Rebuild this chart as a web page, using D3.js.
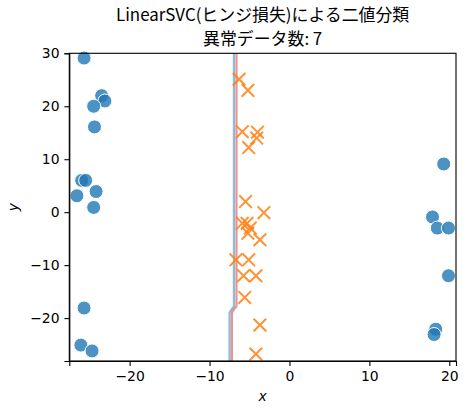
<!DOCTYPE html>
<html>
<head>
<meta charset="utf-8">
<script src="https://cdn.jsdelivr.net/npm/d3@7"></script>
<style>
    body { margin: 0; background: #fff; }
    .axis text { font-family: "DejaVu Sans", sans-serif; font-size: 13.9px; fill: #000; }
    .axis path, .axis line { stroke: #000; stroke-width: 1.1; }
    .title { font-family: "Noto Sans CJK JP", sans-serif; font-size: 16.9px; fill: #000; }
    .label { font-family: "DejaVu Sans", sans-serif; font-size: 13.9px; font-style: italic; fill: #000; }
</style>
</head>
<body>
<svg id="chart" width="467" height="414"></svg>
<script>
(function(){
    'use strict';

    /*******************************************************************
     *                              DATA                               *
     *******************************************************************/

    //Normal points (class 0), [x, y]
    var normalPoints = [
        [-25.7, 29.1], [-23.5, 22.0], [-23.1, 21.0], [-24.5, 20.0],
        [-24.4, 16.1], [-26.0, 6.0], [-25.5, 6.0], [-26.6, 3.1],
        [-24.2, 3.9], [-24.5, 0.9], [-25.7, -18.1], [-26.1, -25.1],
        [-24.7, -26.2],
        [19.3, 9.1], [17.9, -0.9], [18.5, -3.0], [19.9, -3.0],
        [19.9, -12.0], [18.3, -22.1], [18.1, -23.1]
    ];

    //Points of the other class (class 1), [x, y]
    var otherPoints = [
        [-6.3, 25.1], [-5.2, 23.0], [-5.9, 15.2], [-4.0, 15.1],
        [-4.1, 14.0], [-5.1, 12.2], [-5.5, 2.0], [-3.2, -0.1],
        [-5.9, -2.1], [-5.3, -2.1], [-4.9, -3.0], [-5.2, -4.0],
        [-3.7, -5.2], [-6.7, -9.0], [-5.1, -9.0], [-5.75, -12.0],
        [-4.2, -12.0], [-5.6, -16.1], [-3.7, -21.3], [-4.2, -26.8]
    ];

    //Decision boundary as drawn by the two contour levels
    var blueBoundary = [
        [-6.95, 30], [-6.95, -17.8], [-7.3, -18.5], [-7.5, -19.0], [-7.5, -28.1]
    ];
    var redBoundary = [
        [-6.63, 30], [-6.63, -17.8], [-7.0, -18.5], [-7.2, -19.0], [-7.2, -28.1]
    ];

    var xTicks = [-20, -10, 0, 10, 20];
    var yTicks = [-20, -10, 0, 10, 20, 30];

    var titleLines = ['LinearSVC(ヒンジ損失)による二値分類', '異常データ数: 7'];

    /*******************************************************************
     *                             LAYOUT                              *
     *******************************************************************/

    var margin = { left: 69.3, right: 456, top: 53.3, bottom: 361 };
    var svg = d3.select('#chart');

    var xScale = d3.scaleLinear()
        .domain([-27.55, 20.84])
        .range([margin.left, margin.right]);

    var yScale = d3.scaleLinear()
        .domain([-28.1, 30])
        .range([margin.bottom, margin.top]);

    /*******************************************************************
     *                             DRAWING                             *
     *******************************************************************/

    drawBoundaries();
    drawPoints();
    drawAxes();
    drawTexts();

    function drawBoundaries() {
        var line = d3.line()
            .x(function(d) { return xScale(d[0]); })
            .y(function(d) { return yScale(d[1]); });

        svg.append('path')
            .attr('d', line(blueBoundary))
            .attr('fill', 'none')
            .attr('stroke', '#1f77b4')
            .attr('stroke-opacity', 0.5)
            .attr('stroke-width', 2.2);

        svg.append('path')
            .attr('d', line(redBoundary))
            .attr('fill', 'none')
            .attr('stroke', '#d62728')
            .attr('stroke-opacity', 0.5)
            .attr('stroke-width', 2.2);
    }

    function drawPoints() {
        svg.append('g').selectAll('circle')
            .data(normalPoints)
            .enter()
            .append('circle')
            .attr('cx', function(d) { return xScale(d[0]); })
            .attr('cy', function(d) { return yScale(d[1]); })
            .attr('r', 7)
            .attr('fill', '#1f77b4')
            .attr('fill-opacity', 0.8)
            .attr('stroke', '#fff')
            .attr('stroke-width', 1);

        var half = 6.3;
        svg.append('g').selectAll('path')
            .data(otherPoints)
            .enter()
            .append('path')
            .attr('d', function(d) {
                var cx = xScale(d[0]), cy = yScale(d[1]);
                return 'M' + (cx - half) + ',' + (cy - half) + 'L' + (cx + half) + ',' + (cy + half) +
                       'M' + (cx - half) + ',' + (cy + half) + 'L' + (cx + half) + ',' + (cy - half);
            })
            .attr('fill', 'none')
            .attr('stroke', '#ff7f0e')
            .attr('stroke-opacity', 0.85)
            .attr('stroke-width', 2);
    }

    function drawAxes() {
        var fmt = function(d) { return d < 0 ? '\u2212' + Math.abs(d) : d; };

        svg.append('g')
            .attr('class', 'axis')
            .attr('transform', 'translate(0,' + margin.bottom + ')')
            .call(d3.axisBottom(xScale).tickValues(xTicks).tickFormat(fmt)
                .tickSizeOuter(0).tickSize(4.9).tickPadding(4.9));

        svg.append('g')
            .attr('class', 'axis')
            .attr('transform', 'translate(' + margin.left + ',0)')
            .call(d3.axisLeft(yScale).tickValues(yTicks).tickFormat(fmt)
                .tickSizeOuter(0).tickSize(4.9).tickPadding(4.9));

        //Frame around the plot
        svg.append('rect')
            .attr('x', margin.left)
            .attr('y', margin.top)
            .attr('width', margin.right - margin.left)
            .attr('height', margin.bottom - margin.top)
            .attr('fill', 'none')
            .attr('stroke', '#000')
            .attr('stroke-width', 1.1);
    }

    function drawTexts() {
        var cx = (margin.left + margin.right) / 2;

        //Two-line title, lines spaced by the font's full line box
        svg.append('text')
            .attr('class', 'title')
            .attr('text-anchor', 'middle')
            .selectAll('tspan')
            .data(titleLines)
            .enter()
            .append('tspan')
            .attr('x', cx)
            .attr('y', function(d, i) { return 20.8 + i * 24.6; })
            .text(function(d) { return d; });

        svg.append('text')
            .attr('class', 'label')
            .attr('x', cx)
            .attr('y', 401)
            .attr('text-anchor', 'middle')
            .text('x');

        svg.append('text')
            .attr('class', 'label')
            .attr('transform', 'translate(18,' + ((margin.top + margin.bottom) / 2) + ') rotate(-90)')
            .attr('text-anchor', 'middle')
            .text('y');
    }
})();
</script>
</body>
</html>
